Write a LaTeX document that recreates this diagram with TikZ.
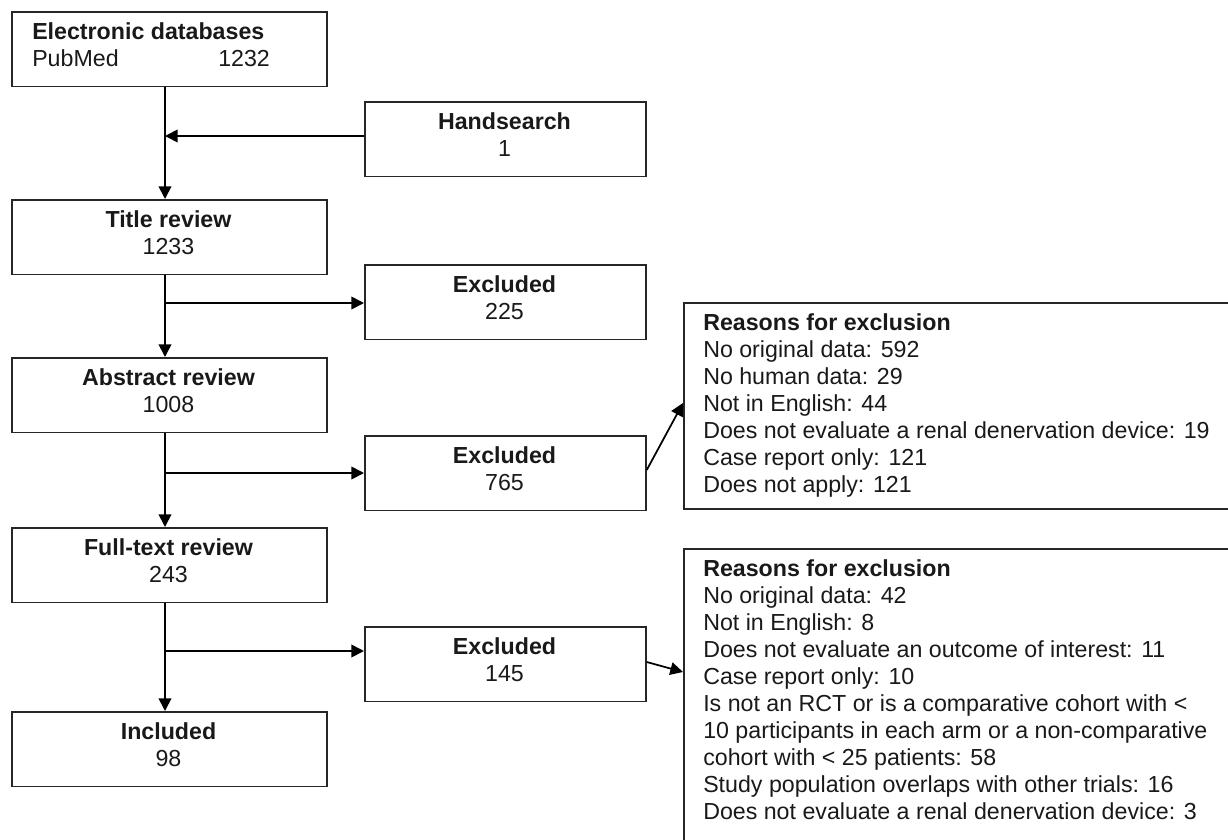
\documentclass[tikz,border=0pt]{standalone}
\usepackage{fontspec}
\setmainfont{Liberation Sans}
\usetikzlibrary{arrows.meta,calc}
\begin{document}
\begin{tikzpicture}[x=0.75pt,y=-0.75pt,
  box/.style={draw=black!85, line width=1.3pt, rectangle, inner sep=0pt, anchor=north west},
  mainbox/.style={box, minimum width=236.25pt, minimum height=55.9pt},
  exbox/.style={box, minimum width=210.75pt, minimum height=55.9pt},
  txt/.style={inner sep=0pt, anchor=north, align=center, font=\fontsize{17.4}{20.25}\selectfont, text=black!90},
  txtl/.style={txt, anchor=north west, align=left},
  arr/.style={draw=black, line width=1.3pt, -{Triangle[length=9.5pt,width=9.5pt]}}]
\newcommand\tstrut{\rule{0pt}{14pt}}
\useasboundingbox (0,0) rectangle (1228,839);
\begin{scope}
\clip (0,0) rectangle (1228,839);
% boxes
\node[mainbox] (eb) at (11,11) {};
\node[exbox] (hs) at (364,101) {};
\node[mainbox] (tr) at (11,199) {};
\node[exbox] (ex1) at (364,264) {};
\node[mainbox] (ar) at (11,357) {};
\node[exbox] (ex2) at (364,435) {};
\node[mainbox] (ft) at (11,527) {};
\node[exbox] (ex3) at (364,626) {};
\node[mainbox] (inc) at (11,711) {};
\node[box, minimum width=417.75pt, minimum height=154.5pt] (r1) at (683,302) {};
\node[box, minimum width=417.75pt, minimum height=240pt] (r2) at (683,548) {};
% texts
\node[txtl] (ebt) at (32,20.8) {\tstrut\textbf{Electronic databases}\\\makebox[139.5pt][l]{PubMed}1232};
\node[txt] (hst) at (504.5,110.8) {\tstrut\textbf{Handsearch}\\1};
\node[txt] (trt) at (168.5,208.8) {\tstrut\textbf{Title review}\\1233};
\node[txt] (ex1t) at (504.5,273.8) {\tstrut\textbf{Excluded}\\225};
\node[txt] (art) at (168.5,366.8) {\tstrut\textbf{Abstract review}\\1008};
\node[txt] (ex2t) at (504.5,444.8) {\tstrut\textbf{Excluded}\\765};
\node[txt] (ftt) at (168.5,536.8) {\tstrut\textbf{Full-text review}\\243};
\node[txt] (ex3t) at (504.5,635.8) {\tstrut\textbf{Excluded}\\145};
\node[txt] (inct) at (168.5,720.8) {\tstrut\textbf{Included}\\98};
\node[txtl] (r1t) at (703,311.8) {\tstrut\textbf{Reasons for exclusion}\\
No original data: 592\\
No human data: 29\\
Not in English: 44\\
Does not evaluate a renal denervation device: 19\\
Case report only: 121\\
Does not apply: 121};
\node[txtl] (r2t) at (703,557.8) {\tstrut\textbf{Reasons for exclusion}\\
No original data: 42\\
Not in English: 8\\
Does not evaluate an outcome of interest: 11\\
Case report only: 10\\
Is not an RCT or is a comparative cohort with <\\
10 participants in each arm or a non-comparative\\
cohort with < 25 patients: 58\\
Study population overlaps with other trials: 16\\
Does not evaluate a renal denervation device: 3};
% connector anchor points
\coordinate (tx) at (165,0);
\coordinate (hsin) at ($(hs.north west)+(0,35)$);
\coordinate (ex1in) at ($(ex1.north west)+(0,39)$);
\coordinate (ex2in) at ($(ex2.north west)+(0,38)$);
\coordinate (ex3in) at ($(ex3.north west)+(0,25)$);
\coordinate (ex2out) at ($(ex2.north east)+(0,35)$);
\coordinate (ex3out) at ($(ex3.north east)+(0,36)$);
\coordinate (r1in) at ($(r1.north west)+(0,101)$);
\coordinate (r2in) at ($(r2.north west)+(0,124)$);
% connectors
\draw[arr] (eb.south -| tx) -- (tr.north -| tx);
\draw[arr] (hsin) -- (hsin -| tx);
\draw[arr] (tr.south -| tx) -- (ar.north -| tx);
\draw[arr] (ex1in -| tx) -- (ex1in);
\draw[arr] (ar.south -| tx) -- (ft.north -| tx);
\draw[arr] (ex2in -| tx) -- (ex2in);
\draw[arr] (ft.south -| tx) -- (inc.north -| tx);
\draw[arr] (ex3in -| tx) -- (ex3in);
\draw[arr] (ex2out) -- (r1in);
\draw[arr] (ex3out) -- (r2in);
\end{scope}
\end{tikzpicture}
\end{document}
